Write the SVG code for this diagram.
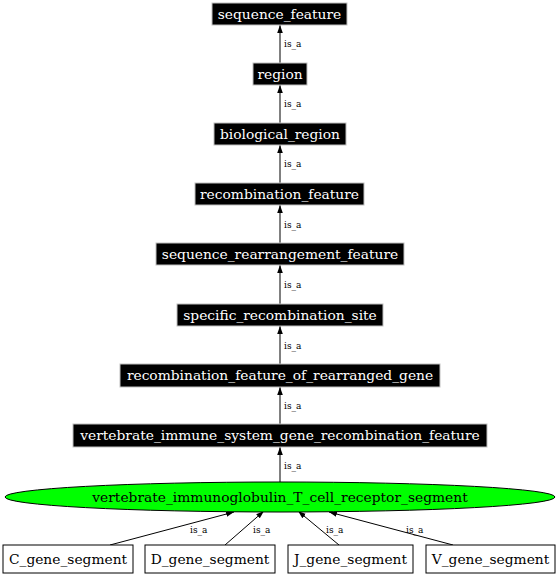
<svg xmlns="http://www.w3.org/2000/svg" width="559" height="576" viewBox="0 0 559 576">
<defs>
<marker id="ah" viewBox="0 0 10 10" refX="10" refY="5" markerWidth="8" markerHeight="8" markerUnits="userSpaceOnUse" orient="auto">
<path d="M0,1.5 L10,5 L0,8.5 Z" fill="#000"/>
</marker>
<style>
.b rect{fill:#000;stroke:#bfbfbf;stroke-width:1}
.b text{fill:#fff}
.w rect{fill:#fff;stroke:#000;stroke-width:1}
text{font-family:"DejaVu Serif",serif;font-size:13.8px;text-anchor:middle}
.l{font-size:9px;text-anchor:start;fill:#000}
#edges line{stroke:#000;stroke-width:1;marker-end:url(#ah)}
</style>
</defs>
<rect width="559" height="576" fill="#fff"/>
<g id="edges">
<line x1="280" y1="63" x2="280" y2="25"/>
<line x1="280" y1="123" x2="280" y2="85"/>
<line x1="280" y1="183" x2="280" y2="145"/>
<line x1="280" y1="243" x2="280" y2="205"/>
<line x1="280" y1="304" x2="280" y2="265"/>
<line x1="280" y1="364" x2="280" y2="326"/>
<line x1="280" y1="424" x2="280" y2="387"/>
<line x1="280" y1="482" x2="280" y2="447"/>
<line x1="110" y1="545" x2="234" y2="512"/>
<line x1="225" y1="545" x2="264" y2="511"/>
<line x1="339" y1="545" x2="298" y2="511"/>
<line x1="453" y1="545" x2="329" y2="512"/>
<text class="l" x="284" y="47">is_a</text>
<text class="l" x="284" y="107">is_a</text>
<text class="l" x="284" y="167">is_a</text>
<text class="l" x="284" y="228">is_a</text>
<text class="l" x="284" y="288">is_a</text>
<text class="l" x="284" y="349">is_a</text>
<text class="l" x="284" y="409">is_a</text>
<text class="l" x="284" y="469">is_a</text>
<text class="l" x="190" y="533">is_a</text>
<text class="l" x="253" y="533">is_a</text>
<text class="l" x="326" y="533">is_a</text>
<text class="l" x="406" y="533">is_a</text>
</g>
<g id="sequence_feature" class="b"><rect x="212" y="3" width="135" height="22"/><text x="279.5" y="19">sequence_feature</text></g>
<g id="region" class="b"><rect x="253" y="63" width="54" height="22"/><text x="280" y="79">region</text></g>
<g id="biological_region" class="b"><rect x="214" y="123" width="132" height="22"/><text x="280" y="139">biological_region</text></g>
<g id="recombination_feature" class="b"><rect x="195" y="183" width="169" height="22"/><text x="279.5" y="199">recombination_feature</text></g>
<g id="sequence_rearrangement_feature" class="b"><rect x="156" y="243" width="248" height="22"/><text x="280" y="259">sequence_rearrangement_feature</text></g>
<g id="specific_recombination_site" class="b"><rect x="177" y="304" width="206" height="22"/><text x="280" y="320">specific_recombination_site</text></g>
<g id="recombination_feature_of_rearranged_gene" class="b"><rect x="120" y="364" width="320" height="23"/><text x="280" y="380">recombination_feature_of_rearranged_gene</text></g>
<g id="vertebrate_immune_system_gene_recombination_feature" class="b"><rect x="73" y="424" width="414" height="23"/><text x="280" y="440">vertebrate_immune_system_gene_recombination_feature</text></g>
<g id="vertebrate_immunoglobulin_T_cell_receptor_segment"><ellipse cx="280" cy="497" rx="275" ry="15" fill="#00ff00" stroke="#000"/><text x="280" y="502">vertebrate_immunoglobulin_T_cell_receptor_segment</text></g>
<g id="C_gene_segment" class="w"><rect x="3" y="545" width="130" height="28"/><text x="68" y="564">C_gene_segment</text></g>
<g id="D_gene_segment" class="w"><rect x="145" y="545" width="130" height="28"/><text x="210" y="564">D_gene_segment</text></g>
<g id="J_gene_segment" class="w"><rect x="288" y="545" width="125" height="28"/><text x="350.5" y="564">J_gene_segment</text></g>
<g id="V_gene_segment" class="w"><rect x="426" y="545" width="129" height="28"/><text x="490.5" y="564">V_gene_segment</text></g>
</svg>
